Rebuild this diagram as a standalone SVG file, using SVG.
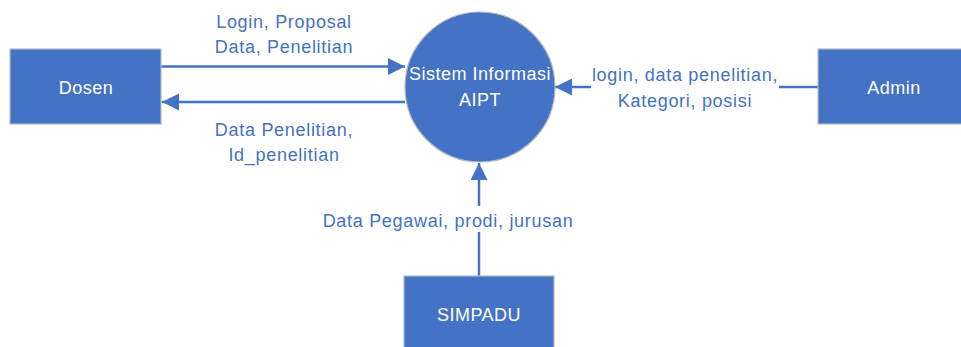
<svg xmlns="http://www.w3.org/2000/svg" width="961" height="347" viewBox="0 0 961 347">
<style>
.node{fill:#4472C4;stroke:#B4B9C4;stroke-width:1.2}
.wt{fill:#FFFFFF;font-family:"Liberation Sans",Arial,sans-serif;font-size:18px;text-anchor:middle;letter-spacing:0.5px}
.lbl{fill:#4472C4;font-family:"Liberation Sans",Arial,sans-serif;font-size:18px;text-anchor:middle;letter-spacing:0.7px}
.ln{stroke:#4472C4;stroke-width:2.5;fill:none}
</style>
<defs>
<marker id="ah" markerUnits="userSpaceOnUse" markerWidth="18" markerHeight="18" refX="17" refY="8.5" orient="auto" viewBox="0 0 18 18">
<path d="M0,0 L17,8.5 L0,17 z" fill="#4472C4"/>
</marker>
</defs>
<rect width="961" height="347" fill="#FFFFFF"/>
<g id="connectors">
<line class="ln" x1="161" y1="66.5" x2="405" y2="66.5" marker-end="url(#ah)"/>
<line class="ln" x1="405" y1="102" x2="162" y2="102" marker-end="url(#ah)"/>
<line class="ln" x1="818" y1="87" x2="779" y2="87"/>
<line class="ln" x1="591" y1="87" x2="555" y2="87" marker-end="url(#ah)"/>
<line class="ln" x1="479" y1="276" x2="479" y2="232"/>
<line class="ln" x1="479" y1="206" x2="479" y2="163" marker-end="url(#ah)"/>
<text class="lbl" x="284" y="28">Login, Proposal</text>
<text class="lbl" x="284" y="53">Data, Penelitian</text>
<text class="lbl" x="284" y="136">Data Penelitian,</text>
<text class="lbl" x="284" y="161">Id_penelitian</text>
<text class="lbl" x="685" y="81">login, data penelitian,</text>
<text class="lbl" x="685" y="107">Kategori, posisi</text>
<text class="lbl" x="448" y="227">Data Pegawai, prodi, jurusan</text>
</g>
<g id="dosen">
<rect class="node" x="10" y="49" width="151" height="75"/>
<text class="wt" x="86" y="94">Dosen</text>
</g>
<g id="sistem">
<circle class="node" cx="480" cy="87" r="75"/>
<text class="wt" x="480" y="80">Sistem Informasi</text>
<text class="wt" x="480" y="106">AIPT</text>
</g>
<g id="admin">
<rect class="node" x="818" y="49" width="152" height="75"/>
<text class="wt" x="894" y="94">Admin</text>
</g>
<g id="simpadu">
<rect class="node" x="404" y="276" width="150" height="80"/>
<text class="wt" x="479" y="321">SIMPADU</text>
</g>
</svg>
